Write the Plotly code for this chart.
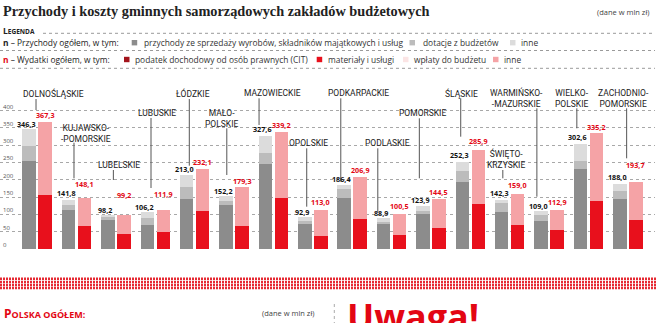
import plotly.graph_objects as go

# ---- data (mln zł) ----
regions = ["DOLNOŚLĄSKIE", "KUJAWSKO-<br>-POMORSKIE", "LUBELSKIE", "LUBUSKIE", "ŁÓDZKIE",
           "MAŁO-<br>POLSKIE", "MAZOWIECKIE", "OPOLSKIE", "PODKARPACKIE", "PODLASKIE",
           "POMORSKIE", "ŚLĄSKIE", "ŚWIĘTO-<br>KRZYSKIE", "WARMIŃSKO-<br>-MAZURSKIE",
           "WIELKO-<br>POLSKIE", "ZACHODNIO-<br>POMORSKIE"]

income_total = [346.3, 141.8, 98.2, 106.2, 213.0, 152.2, 327.6, 92.9, 186.4, 88.9, 123.9, 252.3, 142.3, 109.0, 302.6, 188.0]
income_sales = [255.0, 112.0, 84.0, 69.0, 145.0, 128.0, 246.0, 72.0, 146.0, 74.0, 100.0, 195.0, 108.0, 82.0, 230.0, 145.0]
income_grants = [43.0, 15.0, 8.0, 20.0, 35.0, 10.0, 31.0, 10.0, 28.0, 4.0, 10.0, 31.0, 24.0, 16.0, 24.0, 24.0]
income_other = [48.3, 14.8, 6.2, 17.2, 33.0, 14.2, 50.6, 10.9, 12.4, 10.9, 13.9, 26.3, 10.3, 11.0, 48.6, 19.0]

spend_total = [367.3, 148.1, 99.2, 111.9, 232.1, 179.3, 339.2, 113.0, 206.9, 100.5, 144.5, 285.9, 159.0, 112.9, 335.2, 193.7]
spend_materials = [156.0, 67.0, 43.0, 50.0, 109.0, 67.0, 148.0, 37.0, 87.0, 40.0, 60.0, 130.0, 69.0, 54.0, 140.0, 84.0]
spend_other = [211.3, 81.1, 56.2, 61.9, 123.1, 112.3, 191.2, 76.0, 119.9, 60.5, 84.5, 155.9, 90.0, 58.9, 195.2, 109.7]

y_ticks = [0, 50, 100, 150, 200, 250, 300, 350, 400]

# ---- placement of region names and leader lines (category offsets, value heights) ----
name_dx = [0.414, 0.24, 0.08, 0.04, -0.04, -0.33, -0.02, -0.1, 0.155, -0.11, -0.21, -0.23, -0.09, -0.825, -0.41, -0.1]
name_y = [450, 334.4, 242.8, 392.2, 450, 377.7, 450, 305.5, 450, 305.5, 392.2, 450, 261, 435.5, 435.5, 435.5]
lead_dx = [-0.03, -0.066, -0.066, -0.11, -0.137, -0.185, -0.366, -0.155, -0.29, -0.35, -0.295, -0.244, -0.175, -0.31, -0.295, -0.03]
lead_top = [433.5, 307.2, 228.3, 378.6, 433.5, 348.8, 435.5, 291, 435.5, 291, 377.7, 435.5, 228.3, 406.6, 406.6, 406.6]
lead_bot = [401.7, 204.3, 199.4, 176.3, 240.8, 213.9, 358.4, 122.3, 194.5, 107.8, 204.3, 324.6, 204.3, 151.2, 348.8, 262.1]
# pixel lift of the value labels above the bar tops
inc_lift = [5, 6.5, 5, 5, 6, 5, 7, 5, 6, 5, 6, 6.5, 7, 5.5, 7.5, 7]
sp_lift = [7, 14, 20, 16, 7, 6, 6.5, 8, 7, 8, 7, 9, 9, 8, 6, 17]

# ---- styles ----
C_SALES, C_GRANTS, C_INC_OTHER = "#8c8c8c", "#bcbcbc", "#dcdcdc"
C_CIT, C_MAT, C_PAY, C_SP_OTHER = "#a3141c", "#e8101c", "#fbe4e4", "#f5a3a6"
RED = "#e30613"
W, H = 657, 323
M_L, M_R, M_T, M_B = 0, 2, 80, 74
PW, PH = W - M_L - M_R, H - M_T - M_B
BASE_Y = H - M_B            # pixel row of the zero line
PX_PER_UNIT = 0.346
Y_MAX = (BASE_Y - M_T) / PX_PER_UNIT

SANS = "Open Sans"
NAME_FONT = "Roboto"


def paper(x, y):
    """pixel position on the page -> paper coordinates"""
    return (x - M_L) / PW, (BASE_Y - y) / PH


def fmt(v):
    return f"{v:.1f}".replace(".", ",")


n = len(regions)
x_inc = [i - 0.203 for i in range(n)]
x_sp = [i + 0.203 for i in range(n)]
bw = 0.343

fig = go.Figure()
for vals, col in [(income_sales, C_SALES), (income_grants, C_GRANTS), (income_other, C_INC_OTHER)]:
    fig.add_trace(go.Bar(x=x_inc, y=vals, width=bw, marker=dict(color=col, line_width=0),
                         hoverinfo="y", showlegend=False))
for vals, col in [(spend_materials, C_MAT), (spend_other, C_SP_OTHER)]:
    fig.add_trace(go.Bar(x=x_sp, y=vals, width=bw, marker=dict(color=col, line_width=0),
                         hoverinfo="y", showlegend=False))

ann = []
shapes = []

# totals above bars
for i in range(n):
    ann.append(dict(x=x_inc[i], y=income_total[i], xref="x", yref="y", text=f"<b>{fmt(income_total[i])}</b>",
                    showarrow=False, yanchor="middle", yshift=inc_lift[i], xshift=-2.5,
                    font=dict(family=SANS, size=7.2, color="#111")))
    ann.append(dict(x=x_sp[i], y=spend_total[i], xref="x", yref="y", text=f"<b>{fmt(spend_total[i])}</b>",
                    showarrow=False, yanchor="middle", yshift=sp_lift[i],
                    font=dict(family=SANS, size=7.2, color=RED)))
    # region name
    ann.append(dict(x=i + name_dx[i], y=name_y[i], xref="x", yref="y", text=regions[i],
                    showarrow=False, xanchor="center", yanchor="middle", align="center",
                    font=dict(family=NAME_FONT, size=8.5, color="#222")))
    # leader line
    shapes.append(dict(type="line", xref="x", yref="y", x0=i + lead_dx[i], x1=i + lead_dx[i],
                       y0=lead_top[i], y1=lead_bot[i], line=dict(color="#555", width=1)))

# title and unit note
tx, ty = paper(1, 11)
ann.append(dict(x=tx, y=ty, xref="paper", yref="paper", xanchor="left", yanchor="middle", showarrow=False,
                text="<b>Przychody i koszty gminnych samorządowych zakładów budżetowych</b>",
                font=dict(family="Liberation Serif", size=14.3, color="#222")))
tx, ty = paper(652, 11.7)
ann.append(dict(x=tx, y=ty, xref="paper", yref="paper", xanchor="right", yanchor="middle", showarrow=False,
                text="(dane w mln zł)", font=dict(family=SANS, size=7.5, color="#444")))

# legend block
tx, ty = paper(1, 30)
ann.append(dict(x=tx, y=ty, xref="paper", yref="paper", xanchor="left", yanchor="middle", showarrow=False,
                text="<b>L<span style='font-size:6.5px'>EGENDA</span></b>",
                font=dict(family=SANS, size=8.5, color="#222")))


def dotted(x0, x1, y, color="#9a9a9a"):
    a0, b0 = paper(x0, y)
    a1, _ = paper(x1, y)
    shapes.append(dict(type="line", xref="paper", yref="paper", x0=a0, x1=a1, y0=b0, y1=b0,
                       line=dict(color=color, width=1, dash="dot")))


dotted(43, 655, 33.3)
dotted(0, 655, 50.5)
dotted(0, 655, 68.3)

legend_rows = [
    (42.7, "<b>n</b> – Przychody ogółem, w tym:",
     [(131.7, 141.7, C_SALES, "przychody ze sprzedaży wyrobów, składników majątkowych i usług"),
      (409.5, 420.5, C_GRANTS, "dotacje z budżetów"),
      (510.0, 519.0, C_INC_OTHER, "inne")]),
    (59.5, "<b><span style='color:%s'>n</span></b> – Wydatki ogółem, w tym:" % RED,
     [(124.0, 133.3, C_CIT, "podatek dochodowy od osób prawnych (CIT)"),
      (316.7, 326.0, C_MAT, "materiały i usługi"),
      (403.0, 412.0, C_PAY, "wpłaty do budżetu"),
      (493.0, 502.0, C_SP_OTHER, "inne")]),
]
for ry, head, items in legend_rows:
    tx, ty = paper(1, ry)
    ann.append(dict(x=tx, y=ty, xref="paper", yref="paper", xanchor="left", yanchor="middle", showarrow=False,
                    text=head, font=dict(family=SANS, size=8.4, color="#222")))
    for sx, lx, col, label in items:
        a0, b0 = paper(sx, ry - 2.7)
        a1, b1 = paper(sx + 5.5, ry + 2.7)
        shapes.append(dict(type="rect", xref="paper", yref="paper", x0=a0, x1=a1, y0=b1, y1=b0,
                           fillcolor=col, line_width=0))
        tx, ty = paper(lx, ry)
        ann.append(dict(x=tx, y=ty, xref="paper", yref="paper", xanchor="left", yanchor="middle",
                        showarrow=False, text=label, font=dict(family=SANS, size=8.4, color="#333")))

# red dashed divider band
for ry in [278.8, 281.9, 285.0, 288.1]:
    a0, b0 = paper(0, ry)
    a1, _ = paper(657, ry)
    shapes.append(dict(type="line", xref="paper", yref="paper", x0=a0, x1=a1, y0=b0, y1=b0,
                       line=dict(color="#e62a33", width=2.5, dash="2px,1px")))

# lower section header
tx, ty = paper(1.5, 313)
ann.append(dict(x=tx, y=ty, xref="paper", yref="paper", xanchor="left", yanchor="middle", showarrow=False,
                text="<b>P<span style='font-size:9px'>OLSKA OGÓŁEM:</span></b>",
                font=dict(family=SANS, size=12, color=RED)))
tx, ty = paper(260, 312.5)
ann.append(dict(x=tx, y=ty, xref="paper", yref="paper", xanchor="left", yanchor="middle", showarrow=False,
                text="(dane w mln zł)", font=dict(family=SANS, size=7.5, color="#444")))
a0, b0 = paper(334.3, 304)
_, b1 = paper(334.3, 325)
shapes.append(dict(type="line", xref="paper", yref="paper", x0=a0, x1=a0, y0=b0, y1=b1,
                   line=dict(color="#aaa", width=1, dash="dot")))
tx, ty = paper(345, 290)
ann.append(dict(x=tx, y=ty, xref="paper", yref="paper", xanchor="left", yanchor="top", showarrow=False,
                text="<b>Uwaga!</b>", font=dict(family=SANS, size=36, color=RED)))

fig.update_layout(
    width=W, height=H,
    margin=dict(l=M_L, r=M_R, t=M_T, b=M_B, pad=0),
    paper_bgcolor="white", plot_bgcolor="white",
    barmode="stack", bargap=0, showlegend=False,
    xaxis=dict(range=[-0.945, 15.69], showticklabels=False, showgrid=False, zeroline=False,
               showline=False, ticks="", fixedrange=True),
    yaxis=dict(range=[0, Y_MAX], tickvals=y_ticks, ticktext=[str(v) for v in y_ticks],
               ticklabelposition="inside top", tickfont=dict(family=SANS, size=6, color="#555"),
               showgrid=True, gridcolor="#a8a8a8", griddash="dot", gridwidth=1,
               zeroline=False, showline=False, ticks="", fixedrange=True),
    annotations=ann, shapes=shapes,
)

fig.write_html("out.html")
